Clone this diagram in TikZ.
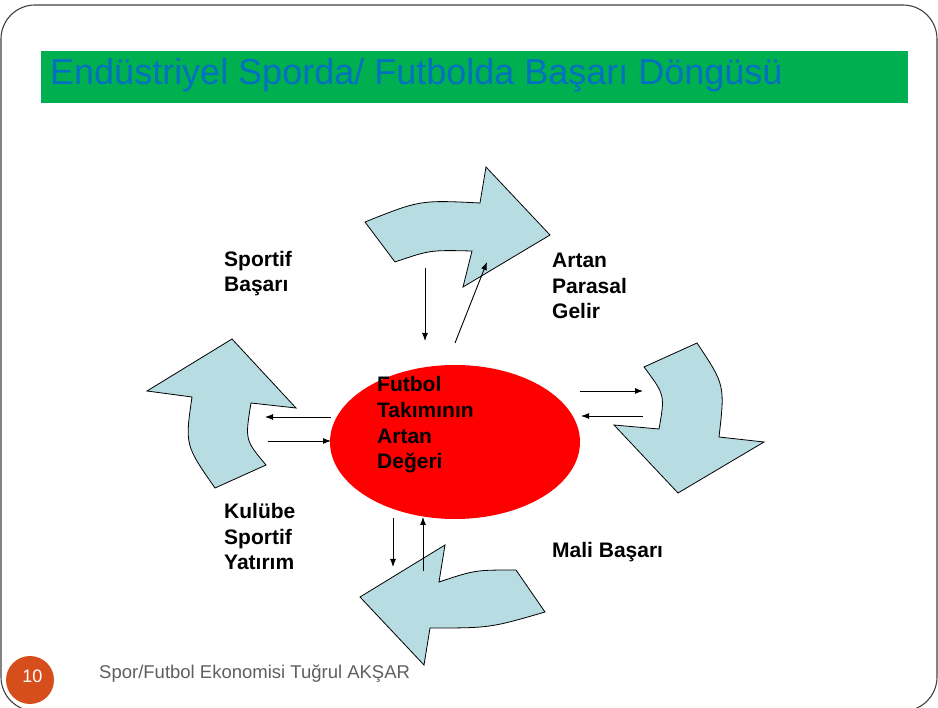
\documentclass[tikz,border=0pt]{standalone}
\usepackage{fontspec}
\setmainfont{Liberation Sans}
\usetikzlibrary{arrows.meta,shapes.geometric}
\definecolor{lblue}{RGB}{183,221,226}
\definecolor{tblue}{RGB}{0,112,192}
\definecolor{tgreen}{RGB}{0,176,80}
\definecolor{porange}{RGB}{214,78,28}
\definecolor{fgray}{RGB}{95,95,95}
\tikzset{
  bent/.style={fill=lblue,draw=black,line width=0.8pt,line join=miter},
  lab/.style={font=\fontsize{21}{25.7}\selectfont\bfseries,align=left,anchor=base west,inner sep=0pt},
  link/.style={-{Latex[length=8pt,width=6pt]},line width=0.9pt}
}
\begin{document}
\begin{tikzpicture}[x=1pt,y=-1pt]
\useasboundingbox (0,0) rectangle (938,708);
% frame
\draw[draw=black!75,line width=1.1pt,rounded corners=34pt] (1,5) rectangle (937,711);
% title bar
\fill[tgreen] (41,51) rectangle (908,103);
\node[anchor=base west,inner sep=0pt,text=tblue,font=\fontsize{36}{40}\selectfont] (title) at (50,85) {Endüstriyel Sporda/ Futbolda Başarı Döngüsü};
% curved arrows
\path[bent] (365,222) .. controls (420,200) .. (480,203) -- (486,167) -- (550,235) -- (463,287) -- (472,251) .. controls (430,250) .. (395,262) -- cycle;
\path[bent] (697,343) .. controls (725,385) .. (719,437) -- (764,442) -- (678,493) -- (614,425) -- (659,429) .. controls (665,395) .. (644,367) -- cycle;
\path[bent] (516,570) .. controls (475,570) .. (439,582) -- (445,545) -- (360,597) -- (424,665) -- (430,628) .. controls (490,628) .. (545,612) -- cycle;
\path[bent] (215,488) .. controls (185,445) .. (192,397) -- (147,391) -- (232,339) -- (296,408) -- (251,403) .. controls (245,440) .. (266,465) -- cycle;
% centre
\node[ellipse,fill=red,minimum width=250pt,minimum height=154pt,inner sep=0pt] (core) at (455,442) {};
\node[lab] (coretext) at (377,469) {Futbol\\Takımının\\Artan\\Değeri};
% labels
\node[lab] (sb) at (224,292) {Sportif\\Başarı};
\node[lab] (apg) at (552,319) {Artan\\Parasal\\Gelir};
\node[lab] (ksy) at (224,570) {Kulübe\\Sportif\\Yatırım};
\node[lab] (mb) at (552,558) {Mali Başarı};
% small connectors
\coordinate (t1a) at (425,268); \coordinate (t1b) at (425,341);
\coordinate (t2a) at (455,343); \coordinate (t2b) at (487,262);
\coordinate (r1a) at (580,391); \coordinate (r1b) at (643,391);
\coordinate (r2a) at (643,416); \coordinate (r2b) at (581,416);
\coordinate (l1a) at (331,417); \coordinate (l1b) at (265,417);
\coordinate (l2a) at (268,441); \coordinate (l2b) at (331,441);
\coordinate (b1a) at (393,518); \coordinate (b1b) at (393,567);
\coordinate (b2a) at (423,571); \coordinate (b2b) at (423,517);
\draw[link] (t1a) -- (t1b);
\draw[link] (t2a) -- (t2b);
\draw[link] (r1a) -- (r1b);
\draw[link] (r2a) -- (r2b);
\draw[link] (l1a) -- (l1b);
\draw[link] (l2a) -- (l2b);
\draw[link] (b1a) -- (b1b);
\draw[link] (b2a) -- (b2b);
% footer
\node[circle,fill=porange,minimum size=48pt,inner sep=0pt] (pg) at (30,680) {};
\node[anchor=base,inner sep=0pt,text=white,font=\fontsize{18}{21}\selectfont] (pgnum) at (32.5,682) {10};
\node[anchor=base west,inner sep=0pt,text=fgray,font=\fontsize{18.5}{22}\selectfont] (foot) at (99,678) {Spor/Futbol Ekonomisi Tuğrul AKŞAR};
\end{tikzpicture}
\end{document}
